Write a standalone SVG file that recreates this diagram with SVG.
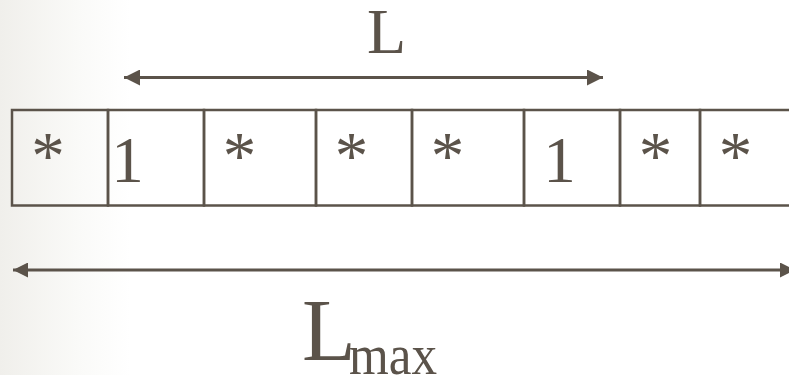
<svg xmlns="http://www.w3.org/2000/svg" width="789" height="375" viewBox="0 0 789 375">
<defs>
<linearGradient id="bg" x1="0" y1="0" x2="1" y2="0">
<stop offset="0" stop-color="#f0efeb"/>
<stop offset="0.6" stop-color="#fafaf8"/>
<stop offset="1" stop-color="#ffffff"/>
</linearGradient>
<marker id="ah" viewBox="0 0 16 16" refX="16" refY="8" markerWidth="16" markerHeight="16" markerUnits="userSpaceOnUse" orient="auto-start-reverse">
<path d="M0,0 L16,8 L0,16 Z" fill="#5b534a"/>
</marker>
<marker id="ah2" viewBox="0 0 15 15" refX="15" refY="7.5" markerWidth="15" markerHeight="15" markerUnits="userSpaceOnUse" orient="auto-start-reverse">
<path d="M0,0 L15,7.5 L0,15 Z" fill="#5b534a"/>
</marker>
</defs>
<style>
.cell{fill:none;stroke:#5b534a;stroke-width:2.5}
.t{font-family:"Liberation Serif","Times New Roman",serif;fill:#5b534a}
.c{font-size:65px;text-anchor:middle}
.s{font-size:67px}
.conn{stroke:#5b534a;stroke-width:3;fill:none}
</style>
<rect x="0" y="0" width="789" height="375" fill="#ffffff"/>
<rect x="0" y="0" width="130" height="375" fill="url(#bg)"/>
<g id="cell1"><rect class="cell" x="12" y="110" width="96" height="95.5"/><text class="t c s" x="48" y="178">*</text></g>
<g id="cell2"><rect class="cell" x="108" y="110" width="96" height="95.5"/><text class="t c" x="127.5" y="182">1</text></g>
<g id="cell3"><rect class="cell" x="204" y="110" width="112" height="95.5"/><text class="t c s" x="239.5" y="178">*</text></g>
<g id="cell4"><rect class="cell" x="316" y="110" width="96" height="95.5"/><text class="t c s" x="351.5" y="178">*</text></g>
<g id="cell5"><rect class="cell" x="412" y="110" width="112" height="95.5"/><text class="t c s" x="447.5" y="178">*</text></g>
<g id="cell6"><rect class="cell" x="524" y="110" width="96" height="95.5"/><text class="t c" x="559.5" y="182">1</text></g>
<g id="cell7"><rect class="cell" x="620" y="110" width="80" height="95.5"/><text class="t c s" x="655.5" y="178">*</text></g>
<g id="cell8"><rect class="cell" x="700" y="110" width="100" height="95.5"/><text class="t c s" x="735.5" y="178">*</text></g>
<g id="connectors">
<line class="conn" x1="124" y1="77.5" x2="603" y2="77.5" marker-start="url(#ah)" marker-end="url(#ah)"/>
<line class="conn" x1="13" y1="270" x2="795" y2="270" marker-start="url(#ah2)" marker-end="url(#ah2)"/>
</g>
<g id="label-L"><text class="t" x="367" y="53" font-size="64">L</text></g>
<g id="label-Lmax"><text class="t" x="302" y="360" font-size="88">L</text><text class="t" x="349" y="374" font-size="56" textLength="88" lengthAdjust="spacingAndGlyphs">max</text></g>
</svg>
